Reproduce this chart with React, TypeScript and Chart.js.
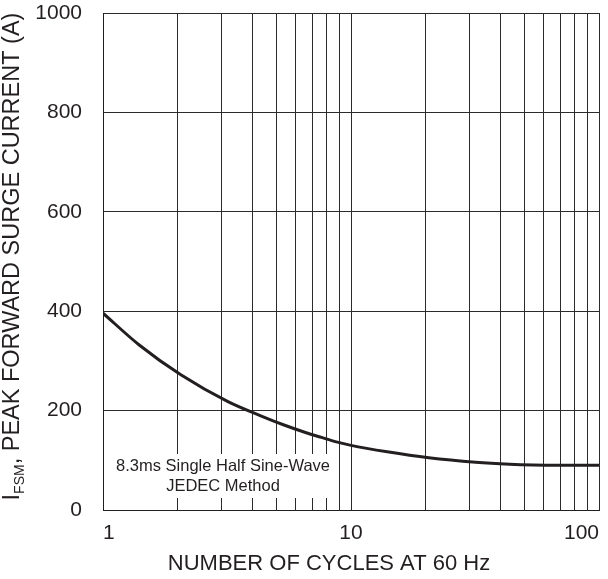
import React, { useEffect, useRef } from 'react';
import { Chart, registerables } from 'chart.js';

Chart.register(...registerables);

// ---- data ----
const cycles = [1, 1.4, 2.06, 3.19, 4.35, 5.37, 6.55, 7.6, 8.73, 10, 14, 20.6, 31.8, 43.6, 54.2, 70, 100];
const surgeCurrent = [396, 332, 272, 218, 189, 171, 156, 146, 137, 130, 117, 105, 96, 92, 90.5, 90, 90];
const xGridValues = [1, 2, 3, 4, 5, 6, 7, 8, 9, 10, 20, 30, 40, 50, 60, 70, 80, 90, 100];
const xLabelValues = [1, 10, 100];
const yTickValues = [0, 200, 400, 600, 800, 1000];
const xTitle = 'NUMBER OF CYCLES AT 60 Hz';
const yTitleMain = 'I';
const yTitleSub = 'FSM';
const yTitleRest = ', PEAK FORWARD SURGE CURRENT (A)';
const noteLines = ['8.3ms Single Half Sine-Wave', 'JEDEC Method'];

const FONT = 'Arial, "Liberation Sans", Helvetica, sans-serif';
const INK = '#231f20';

const titlesPlugin = {
  id: 'titlesPlugin',
  afterDraw(chart: any) {
    const { ctx, chartArea } = chart;
    // y axis title with subscript
    const mainSize = 23.5;
    const subSize = 14;
    ctx.save();
    const cy = (chartArea.top + chartArea.bottom) / 2 - 5;
    ctx.translate(11, cy);
    ctx.rotate(-Math.PI / 2);
    ctx.fillStyle = INK;
    ctx.textBaseline = 'alphabetic';
    ctx.textAlign = 'left';
    ctx.font = `${mainSize}px ${FONT}`;
    const w1 = ctx.measureText(yTitleMain).width;
    const w3 = ctx.measureText(yTitleRest).width;
    ctx.font = `${subSize}px ${FONT}`;
    const w2 = ctx.measureText(yTitleSub).width;
    const total = w1 + w2 + w3;
    let x = -total / 2;
    const base = mainSize * 0.36;
    ctx.font = `${mainSize}px ${FONT}`;
    ctx.fillText(yTitleMain, x, base);
    x += w1;
    ctx.font = `${subSize}px ${FONT}`;
    ctx.fillText(yTitleSub, x, base + 5);
    x += w2;
    ctx.font = `${mainSize}px ${FONT}`;
    ctx.fillText(yTitleRest, x, base);
    ctx.restore();

    // x axis title
    ctx.save();
    ctx.fillStyle = INK;
    ctx.font = `22px ${FONT}`;
    ctx.textAlign = 'center';
    ctx.textBaseline = 'middle';
    ctx.fillText(xTitle, chartArea.left + 226, 564);
    ctx.restore();
  },
};

const notePlugin = {
  id: 'notePlugin',
  beforeDatasetsDraw(chart: any) {
    const { ctx, chartArea } = chart;
    ctx.save();
    const left = chartArea.left + 10;
    const right = chartArea.left + 230;
    const top = chartArea.bottom - 56;
    const bottom = chartArea.bottom - 12;
    ctx.fillStyle = '#ffffff';
    ctx.fillRect(left, top, right - left, bottom - top);
    ctx.fillStyle = INK;
    ctx.font = `16.5px ${FONT}`;
    ctx.textAlign = 'center';
    ctx.textBaseline = 'middle';
    const cx = (left + right) / 2;
    ctx.fillText(noteLines[0], cx, top + 12);
    ctx.fillText(noteLines[1], cx, top + 32);
    ctx.restore();
  },
};

export default function App() {
  const canvasRef = useRef<HTMLCanvasElement | null>(null);

  useEffect(() => {
    const canvas = canvasRef.current;
    if (!canvas) return;
    const chart = new Chart(canvas, {
      type: 'line',
      data: {
        datasets: [
          {
            data: cycles.map((c, i) => ({ x: c, y: surgeCurrent[i] })),
            borderColor: INK,
            borderWidth: 3,
            pointRadius: 0,
            fill: false,
            cubicInterpolationMode: 'monotone',
          },
        ],
      },
      options: {
        animation: false,
        responsive: false,
        maintainAspectRatio: false,
        layout: { autoPadding: false, padding: { top: 13, right: 9, left: 0, bottom: 0 } },
        plugins: {
          legend: { display: false },
          tooltip: { enabled: false },
          title: { display: false },
        },
        scales: {
          x: {
            type: 'logarithmic',
            min: 1,
            max: 100,
            afterBuildTicks(scale: any) {
              scale.ticks = xGridValues.map((v) => ({ value: v }));
            },
            afterFit(scale: any) {
              scale.height = 69;
              scale.paddingLeft = 0;
              scale.paddingRight = 0;
            },
            border: { display: true, color: INK, width: 1 },
            grid: { color: '#2b2b2b', lineWidth: 1, drawTicks: false },
            ticks: {
              autoSkip: false,
              maxRotation: 0,
              minRotation: 0,
              align: 'inner',
              padding: 11,
              color: INK,
              font: { family: FONT, size: 21 },
              callback: (v: any) => (xLabelValues.includes(Number(v)) ? String(v) : ''),
            },
          },
          y: {
            type: 'linear',
            min: 0,
            max: 1000,
            afterBuildTicks(scale: any) {
              scale.ticks = yTickValues.map((v) => ({ value: v }));
            },
            afterFit(scale: any) {
              scale.width = 103;
              scale.paddingTop = 0;
              scale.paddingBottom = 0;
            },
            border: { display: true, color: INK, width: 1 },
            grid: { color: '#2b2b2b', lineWidth: 1, drawTicks: false },
            ticks: {
              padding: 21,
              color: INK,
              font: { family: FONT, size: 21 },
              callback: (v: any) => String(v),
            },
          },
        },
      },
      plugins: [titlesPlugin, notePlugin],
    });
    return () => chart.destroy();
  }, []);

  return (
    <div style={{ position: 'fixed', left: 0, top: 0, width: 608, height: 579, background: '#fff' }}>
      <canvas ref={canvasRef} width={608} height={579} style={{ display: 'block', width: 608, height: 579 }} />
    </div>
  );
}
